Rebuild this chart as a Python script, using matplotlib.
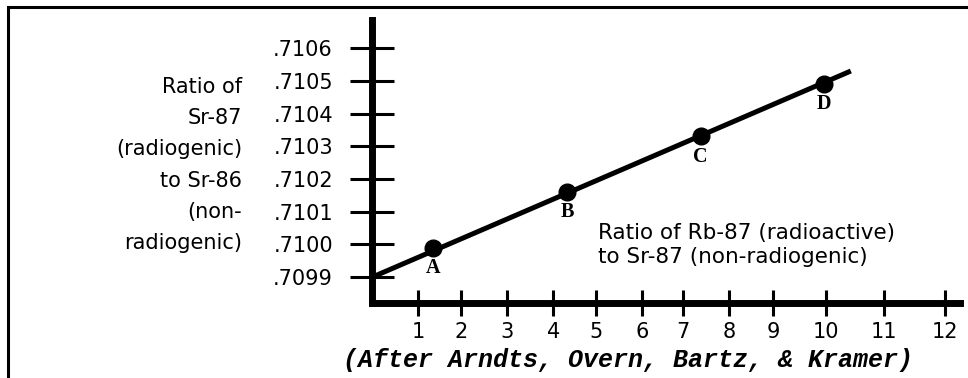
import numpy as np
import matplotlib
matplotlib.use("Agg")
import matplotlib.pyplot as plt
from matplotlib.patches import Rectangle

# rock samples A-D
sample_names = ["A", "B", "C", "D"]
rb_sr = [1.35, 4.32, 7.38, 9.97]           # Rb-87 / Sr-87
sr_sr = [0.70999, 0.71016, 0.71033, 0.71049]  # Sr-87 / Sr-86

# isochron line, from the y axis out a bit past D
isochron_x = [0, 10.43]
isochron_y = [0.7099, 0.71053]

x_ticks = list(range(1, 13))
y_ticks = [0.7099, 0.7100, 0.7101, 0.7102, 0.7103, 0.7104, 0.7105, 0.7106]
y_tick_labels = [".7099", ".7100", ".7101", ".7102", ".7103", ".7104", ".7105", ".7106"]

# the printed x axis is hand drawn: units get wider towards the right
x_knots = np.arange(0, 14)
x_spacing = np.array([0, 45.8, 88.5, 134.2, 180.8, 223.5, 269.8, 310.5,
                      356.8, 400.8, 453.2, 511.5, 572.5, 634.5])


def fwd(v):
    return np.interp(v, x_knots, x_spacing)


def inv(v):
    return np.interp(v, x_spacing, x_knots)


sans = "DejaVu Sans"

fig = plt.figure(figsize=(9.68, 3.78), dpi=100)
ax = fig.add_axes([0.3848, 0.1971, 0.6069, 0.75])
ax.set_xscale("function", functions=(fwd, inv))

ax.plot(isochron_x, isochron_y, color="black", lw=3.6, solid_capstyle="butt")
ax.plot(rb_sr, sr_sr, "o", ms=12, color="black")

for name, x, y in zip(sample_names, rb_sr, sr_sr):
    ax.annotate(name, (x, y), xytext=(0, -14.5), textcoords="offset points",
                ha="center", va="center", fontfamily="Liberation Serif",
                fontweight="bold", fontsize=14.5)

ax.set_xlim(0, 12.24)
ax.set_ylim(0.709819, 0.710686)

ax.set_xticks(x_ticks)
ax.set_xticklabels([str(t) for t in x_ticks], fontfamily=sans)
ax.set_yticks(y_ticks)
ax.set_yticklabels(y_tick_labels, fontfamily=sans)
ax.minorticks_off()

ax.tick_params(axis="y", direction="inout", length=31, width=2.2, pad=13, labelsize=15)
ax.tick_params(axis="x", direction="inout", length=19, width=2.2, pad=4, labelsize=15)

for side in ["top", "right"]:
    ax.spines[side].set_visible(False)
for side in ["left", "bottom"]:
    ax.spines[side].set_linewidth(5)

ax.set_ylabel("Ratio of\nSr-87\n(radiogenic)\nto Sr-86\n(non-\nradiogenic)",
              rotation=0, ha="right", va="center", multialignment="right",
              fontfamily=sans, fontsize=15, linespacing=1.7)
ax.yaxis.set_label_coords(-0.222, 0.4885)

ax.set_xlabel("Ratio of Rb-87 (radioactive)\nto Sr-87 (non-radiogenic)",
              ha="left", va="center", multialignment="left",
              fontfamily=sans, fontsize=15.5, linespacing=1.2)
ax.xaxis.set_label_coords(0.3838, 0.2063)

fig.text(0.649, 0.0476, "(After Arndts, Overn, Bartz, & Kramer)",
         fontfamily="Liberation Mono", fontweight="bold", fontstyle="italic",
         fontsize=18, ha="center", va="center")

# frame round the figure (only top and left edges show)
fig.add_artist(Rectangle((7.5 / 968, -0.1), 1.2, 1.0802, transform=fig.transFigure,
                         fill=False, ec="black", lw=2.2))

fig.savefig("out.png", dpi=100)
